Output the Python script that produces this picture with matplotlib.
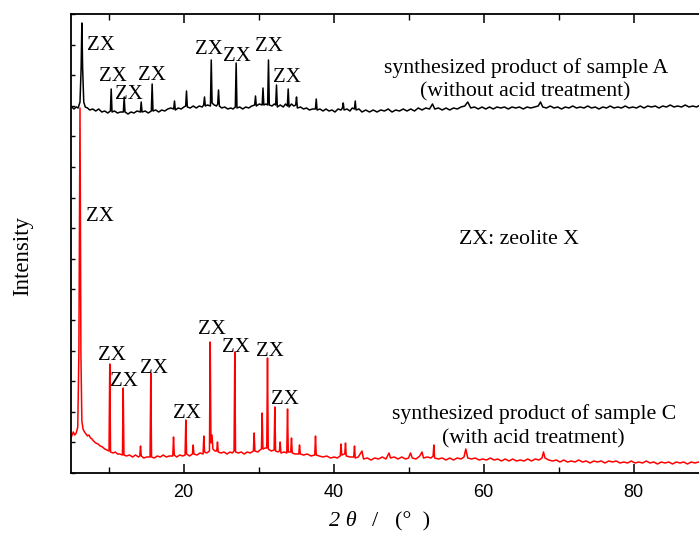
import matplotlib
matplotlib.use("Agg")
import matplotlib.pyplot as plt
import numpy as np

# ---------------- data (2theta in degrees, intensity in arbitrary units) ----------------
tt_A = [5.1, 5.4, 5.7, 5.95, 6.2, 6.35, 6.45, 6.55, 6.7, 6.9, 7.2, 7.5, 7.9, 8.3, 8.7, 9.1, 9.5, 9.9,
        10.25, 10.36, 10.47, 10.8, 11.2, 11.6, 11.98, 12.09, 12.2, 12.6, 13.0, 13.4, 13.8, 14.25,
        14.36, 14.47, 14.9, 15.3, 15.71, 15.82, 15.93, 16.3, 16.7, 17.1, 17.5, 17.9, 18.3, 18.69,
        18.8, 18.91, 19.3, 19.7, 20.05, 20.29, 20.4, 20.51, 20.9, 21.3, 21.7, 22.1, 22.5, 22.69,
        22.8, 22.91, 23.2, 23.59, 23.7, 23.81, 24.1, 24.4, 24.56, 24.67, 24.78, 25.1, 25.5, 25.9,
        26.3, 26.6, 26.91, 27.02, 27.13, 27.5, 27.9, 28.3, 28.7, 29.1, 29.49, 29.6, 29.71, 30.1,
        30.49, 30.6, 30.71, 31.0, 31.22, 31.33, 31.44, 31.8, 32.1, 32.29, 32.4, 32.51, 32.9, 33.3,
        33.6, 33.85, 33.96, 34.07, 34.4, 34.7, 34.96, 35.07, 35.18, 35.6, 36.0, 36.4, 36.8, 37.2,
        37.59, 37.7, 37.81, 38.2, 38.6, 39.0, 39.4, 39.8, 40.2, 40.6, 41.0, 41.19, 41.3, 41.41,
        41.8, 42.2, 42.5, 42.79, 42.9, 43.01, 43.4, 43.8, 44.3, 44.8, 45.3, 45.8, 46.3, 46.8,
        47.3, 47.8, 48.3, 48.8, 49.3, 49.8, 50.3, 50.8, 51.3, 51.8, 52.3, 52.8, 53.2, 53.5, 54.0,
        54.5, 55.0, 55.5, 56.0, 56.5, 57.0, 57.5, 57.9, 58.3, 58.8, 59.3, 59.8, 60.3, 60.8, 61.3,
        61.8, 62.3, 62.8, 63.3, 63.8, 64.3, 64.8, 65.3, 65.8, 66.3, 66.8, 67.3, 67.6, 67.9, 68.4,
        68.9, 69.4, 69.9, 70.4, 70.9, 71.4, 71.9, 72.4, 72.9, 73.4, 73.9, 74.4, 74.9, 75.4, 75.9,
        76.4, 76.9, 77.4, 77.9, 78.4, 78.9, 79.4, 79.9, 80.4, 80.9, 81.4, 81.9, 82.4, 82.9, 83.4,
        83.9, 84.4, 84.9, 85.4, 85.9, 86.4, 86.9, 87.4, 87.9, 88.4, 88.9, 89.4, 90.0]
int_A = [366, 364, 366, 365, 371, 405, 450, 405, 371, 366, 365, 363, 364, 362, 364, 361, 362, 360,
         362, 384, 361, 362, 360, 361, 361, 376, 361, 359, 361, 360, 362, 361,
         371, 361, 362, 360, 362, 389, 362, 363, 361, 363, 362, 364, 365, 364,
         372, 363, 365, 364, 366, 367, 382, 366, 365, 367, 365, 367, 366, 368,
         376, 367, 368, 367, 413, 370, 368, 367, 369, 383, 367, 365, 366, 364,
         365, 364, 366, 410, 365, 366, 364, 366, 365, 367, 368, 377, 367, 369,
         368, 385, 368, 369, 368, 413, 368, 367, 369, 368, 388, 366, 368, 366,
         369, 367, 384, 366, 369, 367, 368, 376, 365, 366, 364, 365, 363, 364,
         364, 374, 363, 364, 362, 364, 362, 363, 361, 364, 363, 365, 370, 363,
         364, 362, 365, 364, 372, 363, 364, 361, 363, 361, 363, 361, 363, 362,
         364, 361, 363, 362, 364, 362, 364, 362, 365, 363, 365, 364, 369, 364, 365,
         363, 365, 363, 365, 364, 366, 367, 371, 365, 366, 364, 366, 364, 366, 364,
         366, 365, 366, 364, 366, 365, 366, 364, 366, 365, 366, 367, 371, 366, 365,
         367, 365, 366, 364, 366, 365, 367, 365, 366, 365, 367, 365, 366, 364, 366,
         365, 367, 365, 366, 365, 367, 365, 366, 365, 367, 365, 367, 366, 367, 365,
         367, 366, 368, 366, 367, 366, 368, 366, 367, 366, 368, 366, 367]

tt_C = [5.1, 5.3, 5.5, 5.7, 5.9, 6.05, 6.2, 6.32, 6.45, 6.6, 6.8, 7.0, 7.2, 7.4, 7.6, 7.8, 8.0, 8.3,
        8.6, 8.9, 9.2, 9.5, 9.8, 10.07, 10.17, 10.27, 10.6, 10.9, 11.2, 11.5, 11.86, 11.96, 12.06,
        12.4, 12.8, 13.2, 13.6, 14.0, 14.17, 14.27, 14.37, 14.7, 15.1, 15.54, 15.64, 15.74, 16.1,
        16.5, 16.9, 17.3, 17.7, 18.1, 18.57, 18.67, 18.77, 19.1, 19.5, 19.9, 20.21, 20.31, 20.41,
        20.8, 21.19, 21.29, 21.39, 21.8, 22.2, 22.61, 22.71, 22.81, 23.1, 23.46, 23.56, 23.66,
        23.8, 23.92, 24.2, 24.43, 24.53, 24.63, 25.0, 25.4, 25.8, 26.2, 26.5, 26.74, 26.84, 26.94,
        27.3, 27.7, 28.1, 28.5, 28.9, 29.32, 29.42, 29.52, 29.9, 30.2, 30.39, 30.49, 30.59, 30.9,
        31.1, 31.2, 31.3, 31.7, 32.08, 32.18, 32.28, 32.6, 32.79, 32.89, 32.99, 33.4, 33.77, 33.87,
        33.97, 34.3, 34.4, 34.5, 34.9, 35.37, 35.47, 35.57, 36.0, 36.5, 37.0, 37.5, 37.6, 37.7,
        38.1, 38.6, 39.1, 39.6, 40.1, 40.5, 40.9, 41.0, 41.1, 41.5, 41.6, 41.7, 42.2, 42.7, 42.8,
        42.9, 43.3, 43.8, 44.0, 44.5, 45.0, 45.5, 46.0, 46.5, 47.0, 47.4, 47.6, 48.1, 48.6, 49.1,
        49.6, 50.0, 50.27, 50.5, 51.0, 51.5, 51.8, 52.0, 52.5, 53.0, 53.28, 53.38, 53.48, 54.0,
        54.5, 55.0, 55.5, 56.0, 56.5, 57.0, 57.4, 57.64, 57.9, 58.4, 58.9, 59.4, 59.9, 60.4, 60.9,
        61.4, 61.9, 62.4, 62.9, 63.4, 63.9, 64.4, 64.9, 65.4, 65.9, 66.4, 66.9, 67.4, 67.8, 68.0,
        68.2, 68.7, 69.2, 69.7, 70.2, 70.7, 71.2, 71.7, 72.2, 72.7, 73.2, 73.7, 74.2, 74.7, 75.2,
        75.7, 76.2, 76.7, 77.2, 77.7, 78.2, 78.7, 79.2, 79.7, 80.2, 80.7, 81.2, 81.7, 82.2, 82.7,
        83.2, 83.7, 84.2, 84.7, 85.2, 85.7, 86.2, 86.7, 87.2, 87.7, 88.2, 88.7, 89.2, 90.0]
int_C = [37, 41, 38, 40, 46, 120, 365, 120, 52, 44, 41, 39, 37, 38, 35, 34, 32, 30,
         29, 27, 26, 24, 23, 22, 109, 21, 20, 21, 19, 19, 18, 85, 18,
         17, 18, 16, 18, 16, 17, 27, 17, 15, 16, 16, 100, 16, 15,
         17, 16, 18, 16, 17, 17, 36, 18, 16, 18, 17, 18, 53, 19,
         17, 19, 28, 19, 18, 20, 19, 37, 21, 20, 22, 131, 30,
         38, 24, 22, 22, 31, 21, 20, 21, 19, 21, 20, 22, 121, 21,
         20, 21, 19, 21, 20, 22, 40, 22, 21, 23, 24, 60, 24, 25,
         25, 115, 24, 22, 23, 66, 22, 21, 22, 31, 20, 21, 20, 64,
         21, 21, 35, 20, 19, 19, 28, 19, 18, 19, 17, 18, 37, 18,
         17, 16, 17, 15, 16, 15, 17, 29, 18, 19, 30, 17, 16, 16, 27,
         15, 16, 22, 14, 15, 13, 15, 14, 16, 14, 20, 15, 16, 14, 16,
         14, 15, 20, 15, 14, 17, 21, 15, 16, 15, 17, 28, 15, 14,
         15, 13, 15, 13, 15, 14, 16, 24, 15, 14, 15, 13, 14, 13, 15,
         13, 14, 12, 14, 12, 14, 12, 13, 12, 14, 12, 14, 13, 15, 21,
         15, 13, 12, 13, 11, 13, 11, 12, 11, 13, 11, 12, 10, 12, 11,
         12, 10, 12, 11, 12, 10, 11, 10, 12, 10, 11, 10, 12, 10, 11,
         9, 11, 10, 11, 9, 11, 10, 11, 9, 11, 10, 11, 10, 10]

# label positions for "ZX" markers (2theta, intensity)
zx_A = [(9.04, 427.7), (10.6, 396.5), (12.71, 378.5), (15.83, 397), (23.33, 424),
        (27.16, 416.3), (31.33, 426.3), (33.77, 395)]
zx_C = [(8.83, 256.8), (10.4, 117.7), (12.04, 91.5), (16.0, 104.3), (20.49, 59.5),
        (23.83, 143), (26.93, 125.3), (31.47, 121), (33.57, 73.5)]

x_ticks = [20, 40, 60, 80]
x_minor = [10, 30, 50, 70, 90]

# ---------------- figure ----------------
W, H = 699, 533
fig = plt.figure(figsize=(W / 100, H / 100), dpi=100)
ax_left, ax_right, ax_top, ax_bot = 71, 708.5, 14, 473
ax = fig.add_axes([ax_left / W, 1 - ax_bot / H, (ax_right - ax_left) / W, (ax_bot - ax_top) / H])

serif = ["Liberation Serif", "DejaVu Serif"]

ax.plot(tt_A, int_A, color="black", lw=1.1, zorder=3)
ax.plot(tt_C, int_C, color="#ff0000", lw=1.1, zorder=2)

ax.set_xlim(5, 90)
ax.set_ylim(0, 459)
ax.set_xticks(x_ticks)
ax.set_xticks(x_minor, minor=True)
ax.set_yticks(np.linspace(0, 459, 16))
ax.set_yticklabels([])
ax.tick_params(axis="x", which="major", direction="in", length=6.5, width=1.1, top=True,
               labelsize=13, pad=8)
ax.tick_params(axis="x", which="minor", direction="in", length=4, width=1.0, top=True)
ax.tick_params(axis="y", which="major", direction="in", length=3, width=1.0, right=False)
for lab in ax.get_xticklabels():
    lab.set_fontfamily(["Liberation Sans", "DejaVu Sans"])
for sp in ax.spines.values():
    sp.set_linewidth(1.3)

for (x, y) in zx_A + zx_C:
    ax.text(x, y, "ZX", fontsize=15, family=serif, ha="center", va="center")

fs = 15.7
ax.text(65.67, 405, "synthesized product of sample A", fontsize=fs, family=serif, ha="center", va="center")
ax.text(65.6, 381, "(without acid treatment)", fontsize=fs, family=serif, ha="center", va="center")
ax.text(64.67, 233, "ZX: zeolite X", fontsize=fs, family=serif, ha="center", va="center")
ax.text(66.73, 59, "synthesized product of sample C", fontsize=fs, family=serif, ha="center", va="center")
ax.text(66.7, 34, "(with acid treatment)", fontsize=fs, family=serif, ha="center", va="center")

fig.text(23 / W, 1 - 256 / H, "Intensity", rotation=90, fontsize=16.5, family=serif,
         ha="center", va="center")
fig.text(343 / W, 1 - 522 / H, "2 θ", fontsize=16, family=serif, style="italic",
         ha="center", va="center")
fig.text(372 / W, 1 - 522 / H, "/   (°  )", fontsize=16, family=serif,
         ha="left", va="center")

fig.savefig("out.png", dpi=100)
